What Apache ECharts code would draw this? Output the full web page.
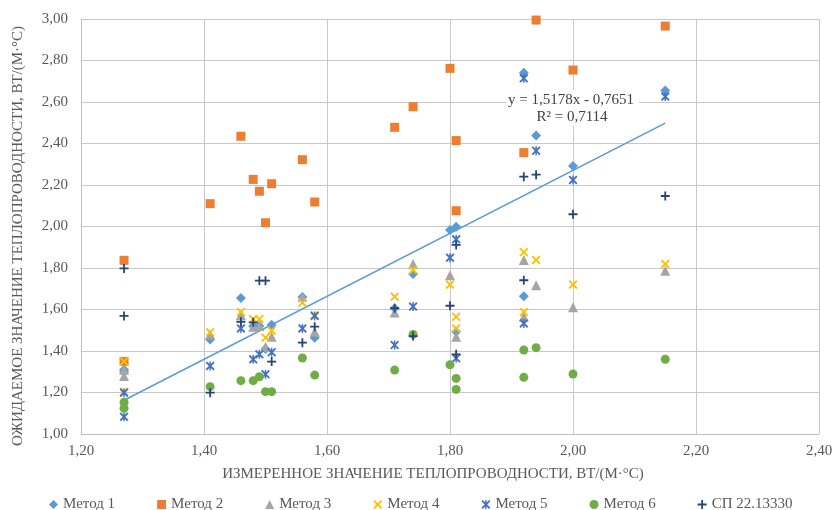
<!DOCTYPE html>
<html>
<head>
<meta charset="utf-8">
<script src="https://cdn.jsdelivr.net/npm/echarts@6.0.0/dist/echarts.min.js"></script>
<style>
  html, body { margin: 0; padding: 0; background: #fff; }
  #main { width: 833px; height: 510px; }
</style>
</head>
<body>
<div id="main"></div>
<script>
// измеренные значения (ось X), одинаковые для всех методов
var measured = [1.27, 1.27, 1.41, 1.46, 1.48, 1.49, 1.50, 1.51, 1.56, 1.58,
                1.71, 1.74, 1.80, 1.81, 1.81, 1.92, 1.92, 1.94, 2.00, 2.15];

var method1 = [1.31, 1.30, 1.456, 1.655, 1.52, 1.52, 1.41, 1.527, 1.66, 1.464,
               1.606, 1.771, 1.983, 1.999, 1.493, 2.741, 1.664, 2.439, 2.292, 2.655];
var method2 = [1.837, 1.350, 2.110, 2.435, 2.227, 2.170, 2.018, 2.206, 2.322, 2.118,
               2.478, 2.577, 2.762, 2.414, 2.076, 2.356, null, 2.995, 2.754, 2.966];
var method3 = [1.31, 1.28, 1.48, 1.573, 1.517, 1.52, 1.421, 1.469, 1.662, 1.493,
               1.585, 1.819, 1.765, 1.469, null, 1.839, 1.565, 1.717, 1.611, 1.787];
var method4 = [1.350, 1.204, 1.490, 1.588, 1.554, 1.554, 1.464, 1.498, 1.633, 1.573,
               1.662, 1.790, 1.720, 1.565, 1.509, 1.876, 1.588, 1.839, 1.720, 1.819];
var method5 = [1.199, 1.083, 1.328, 1.509, 1.360, 1.384, 1.288, 1.394, 1.509, 1.569,
               1.429, 1.614, 1.850, 1.938, 1.365, 2.714, 1.533, 2.365, 2.224, 2.626];
var method6 = [1.153, 1.124, 1.228, 1.257, 1.257, 1.276, 1.204, 1.204, 1.366, 1.284,
               1.308, 1.480, 1.334, 1.268, 1.215, 1.405, 1.273, 1.416, 1.289, 1.360];
var sp22 = [1.798, 1.569, 1.199, 1.541, 1.538, 1.739, 1.739, 1.349, 1.440, 1.517,
            1.606, 1.472, 1.618, 1.911, 1.384, 2.240, 1.741, 2.250, 2.059, 2.147];

var seriesNames = ['Метод 1', 'Метод 2', 'Метод 3', 'Метод 4', 'Метод 5', 'Метод 6', 'СП 22.13330'];

// линия тренда (Метод 1): y = 1,5178x - 0,7651
var trendSlope = 1.5178;
var trendIntercept = -0.7651;
var trendR2 = 0.7114;

var font = 'Liberation Serif, Times New Roman, serif';
var textColor = '#595959';

var symX = 'path://M0,1.5 L1.5,0 L5,3.5 L8.5,0 L10,1.5 L6.5,5 L10,8.5 L8.5,10 L5,6.5 L1.5,10 L0,8.5 L3.5,5 Z';
var symStar = 'path://M0,1.5 L1.5,0 L5,3.5 L8.5,0 L10,1.5 L6.5,5 L10,8.5 L8.5,10 L5,6.5 L1.5,10 L0,8.5 L3.5,5 Z M4.2,0 L5.8,0 L5.8,10 L4.2,10 Z';
var symPlus = 'path://M4,0 L6,0 L6,4 L10,4 L10,6 L6,6 L6,10 L4,10 L4,6 L0,6 L0,4 L4,4 Z';

function pairs(vals) {
    var out = [];
    for (var i = 0; i < measured.length; i++) {
        if (vals[i] != null) out.push([measured[i], vals[i]]);
    }
    return out;
}

function num(v) {
    return v.toFixed(2).replace('.', ',');
}

var xMin = Math.min.apply(null, measured);
var xMax = Math.max.apply(null, measured);
var trendData = [
    [xMin, trendSlope * xMin + trendIntercept],
    [xMax, trendSlope * xMax + trendIntercept]
];

function scatter(name, vals, symbol, size, color) {
    return {
        name: name,
        type: 'scatter',
        data: pairs(vals),
        symbol: symbol,
        symbolSize: size,
        itemStyle: { color: color, opacity: 1 }
    };
}

var myChart = echarts.init(document.getElementById('main'));
myChart.setOption({
    animation: false,
    textStyle: { fontFamily: font },
    grid: {
        left: 81,
        right: 14,
        top: 19,
        bottom: 76,
        outerBoundsMode: 'none'
    },
    legend: {
        data: seriesNames,
        left: 44,
        top: 492,
        itemGap: 42,
        itemWidth: 9,
        itemHeight: 9,
        textStyle: { fontFamily: font, fontSize: 15, color: textColor }
    },
    xAxis: {
        type: 'value',
        min: 1.2,
        max: 2.4,
        interval: 0.2,
        axisLine: { lineStyle: { color: '#BFBFBF' } },
        axisTick: { show: false },
        splitLine: { lineStyle: { color: '#C8C8C8' } },
        axisLabel: {
            margin: 10,
            fontSize: 15,
            fontFamily: font,
            color: textColor,
            formatter: num
        }
    },
    yAxis: {
        type: 'value',
        min: 1,
        max: 3,
        interval: 0.2,
        axisLine: { show: true, lineStyle: { color: '#BFBFBF' } },
        axisTick: { show: false },
        splitLine: { lineStyle: { color: '#C8C8C8' } },
        axisLabel: {
            margin: 13,
            fontSize: 15,
            fontFamily: font,
            color: textColor,
            formatter: num
        }
    },
    graphic: [
        {
            type: 'text',
            x: 433, y: 474,
            style: {
                text: 'ИЗМЕРЕННОЕ ЗНАЧЕНИЕ ТЕПЛОПРОВОДНОСТИ, ВТ/(М·°С)',
                font: '15px ' + font,
                fill: textColor,
                align: 'center',
                verticalAlign: 'middle'
            }
        },
        {
            type: 'text',
            x: 18, y: 236,
            rotation: Math.PI / 2,
            style: {
                text: 'ОЖИДАЕМОЕ ЗНАЧЕНИЕ ТЕПЛОПРОВОДНОСТИ, ВТ/(М·°С)',
                font: '15px ' + font,
                fill: textColor,
                align: 'center',
                verticalAlign: 'middle'
            }
        },
        {
            type: 'rect',
            shape: { x: 506, y: 90, width: 133, height: 36 },
            style: { fill: '#fff' },
            z: 1
        },
        {
            type: 'text',
            x: 571, y: 100,
            z: 2,
            style: {
                text: 'y = ' + trendSlope.toFixed(4).replace('.', ',') + 'x - ' +
                      Math.abs(trendIntercept).toFixed(4).replace('.', ','),
                font: '15px ' + font,
                fill: '#404040',
                align: 'center',
                verticalAlign: 'middle'
            }
        },
        {
            type: 'text',
            x: 572, y: 117,
            z: 2,
            style: {
                text: 'R² = ' + trendR2.toFixed(4).replace('.', ','),
                font: '15px ' + font,
                fill: '#404040',
                align: 'center',
                verticalAlign: 'middle'
            }
        }
    ],
    series: [
        scatter('Метод 1', method1, 'diamond', 10, '#5B9BD5'),
        scatter('Метод 2', method2, 'rect', 9, '#ED7D31'),
        scatter('Метод 3', method3, 'triangle', 10, '#A5A5A5'),
        scatter('Метод 4', method4, symX, 9, '#FFC000'),
        scatter('Метод 5', method5, symStar, 9, '#4472C4'),
        scatter('Метод 6', method6, 'circle', 9, '#70AD47'),
        scatter('СП 22.13330', sp22, symPlus, 9, '#264478'),
        {
            name: 'Линейная (Метод 1)',
            type: 'line',
            data: trendData,
            symbol: 'none',
            silent: true,
            lineStyle: { color: '#5B9BD5', width: 1.5 },
            z: 1
        }
    ]
});
</script>
</body>
</html>
